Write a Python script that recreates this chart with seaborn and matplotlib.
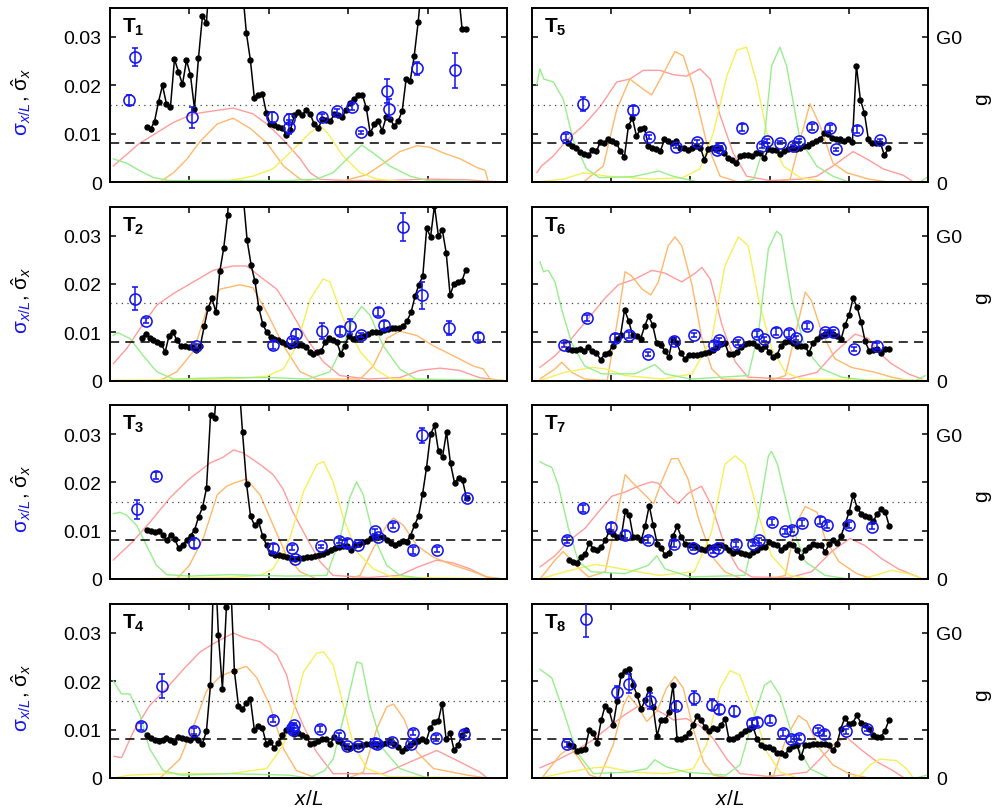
import numpy as np
import pandas as pd
import matplotlib
matplotlib.use('Agg')
import matplotlib.pyplot as plt
import seaborn as sns

sns.set_style('ticks')
plt.rcParams['font.family'] = ['Liberation Sans', 'DejaVu Sans']
plt.rcParams['mathtext.fontset'] = 'custom'
plt.rcParams['mathtext.rm'] = 'Liberation Sans'
plt.rcParams['mathtext.it'] = 'Liberation Sans:italic'
plt.rcParams['mathtext.bf'] = 'Liberation Sans:bold'
plt.rcParams['axes.edgecolor'] = 'black'
plt.rcParams['xtick.color'] = 'black'
plt.rcParams['ytick.color'] = 'black'
plt.rcParams['text.color'] = 'black'

SCALE = 1e-3      # sigma values are given in units of 1e-3
G0_LEVEL = 0.03   # g = G0 sits at the 0.03 tick
SIG_DASH = 0.008
SIG_DOT = 0.016

# ---------------- black series: sigma-hat along x/L ----------------
T1_SIG = [11.4, 10.9, 12.5, 16.6, 20.0, 16.1, 15.6, 25.4, 22.8, 20.2, 25.2, 22.1, 15.2, 25.6, 34.3, 33.0, 45, 55, 70, 80,
          85, 80, 70, 55, 40, 30.8, 25.2, 17.3, 18.1, 18.3, 14.3, 11.9, 11.7, 11.4, 11.2, 9.7, 10.7, 13.8, 14.5, 13.9,
          15.0, 14.0, 11.9, 11.1, 13.1, 12.8, 12.6, 14.0, 13.8, 13.4, 15.0, 16.4, 17.2, 18.0, 18.1, 15.4, 10.1, 11.9,
          12.6, 10.6, 13.5, 13.0, 11.6, 12.6, 14.7, 21.4, 20.9, 26.0, 33.1, 42, 55, 70, 80, 85, 82, 72, 60, 48, 40,
          31.6, 31.7]
T2_SIG = [8.8, 9.7, 8.8, 8.3, 8.0, 7.6, 5.9, 9.3, 10.1, 8.3, 7.2, 7.1, 6.9, 6.9, 6.4, 7.2, 11.2, 15.0, 17.0, 14.1, 22.6,
          27.4, 34.3, 48, 55, 50, 38, 29.0, 24.0, 20.5, 15.0, 11.7, 10.0, 9.0, 8.6, 8.3, 7.9, 7.5, 7.2, 7.3, 7.4, 7.3,
          7.0, 6.0, 5.4, 6.0, 6.2, 7.9, 8.8, 8.4, 7.9, 5.5, 7.2, 9.2, 8.6, 8.8, 9.1, 9.3, 9.7, 10.1, 10.0, 10.1, 10.5,
          10.6, 10.8, 10.9, 10.8, 11.2, 12.4, 14.1, 17.4, 19.8, 21.6, 31.5, 29.7, 36.2, 29.9, 31.2, 26.4, 17.7, 20.0,
          20.3, 20.5, 22.9]
T3_SIG = [10.2, 9.9, 9.7, 9.9, 9.2, 8.0, 9.2, 8.3, 6.5, 7.0, 8.0, 9.0, 10.1, 12.8, 14.8, 18.8, 33.9, 33.4, 45, 60, 70,
          65, 55, 42, 30.4, 19.7, 13.0, 11.1, 11.9, 9.0, 7.0, 5.4, 5.0, 4.9, 4.7, 4.6, 4.4, 4.2, 4.3, 4.3, 4.6, 4.6,
          4.8, 4.9, 5.2, 5.6, 6.1, 6.5, 6.6, 6.8, 6.8, 6.1, 7.1, 7.2, 7.7, 7.8, 8.5, 8.9, 8.7, 8.7, 8.0, 7.5, 7.1, 7.5,
          7.8, 7.7, 9.0, 11.1, 13.0, 17.5, 23.0, 29.9, 31.8, 26.4, 25.2, 30.4, 23.9, 19.9, 20.9, 20.4, 16.8]
T4_SIG = [8.8, 8.3, 7.9, 7.7, 7.8, 8.3, 7.8, 7.4, 8.5, 8.3, 8.1, 7.8, 8.5, 7.8, 7.1, 9.7, 19.2, 48, 29.5, 18.5, 35.4,
          42, 22.1, 15.0, 14.2, 15.6, 16.3, 9.9, 10.8, 10.3, 7.1, 7.4, 6.2, 7.2, 8.8, 9.9, 10.1, 9.2, 9.4, 9.0, 8.5,
          7.1, 7.2, 7.7, 8.0, 8.0, 7.1, 8.5, 7.7, 7.2, 6.4, 6.2, 6.6, 6.6, 6.8, 7.1, 7.1, 7.1, 6.8, 7.1, 7.2, 7.4, 7.1,
          6.4, 5.5, 6.2, 6.9, 7.4, 7.7, 8.1, 7.6, 10.3, 11.6, 11.7, 15.4, 8.0, 9.4, 5.7, 6.9, 8.8, 9.9]
T5_SIG = [8.0, 7.4, 7.1, 6.2, 5.7, 5.6, 6.6, 6.4, 8.3, 8.1, 9.0, 8.5, 8.0, 6.4, 5.2, 11.6, 13.3, 9.5, 10.9, 11.2, 7.4,
          7.1, 6.8, 6.4, 8.8, 8.5, 8.0, 8.5, 7.1, 7.1, 6.6, 7.1, 7.4, 7.1, 4.6, 6.8, 7.0, 6.8, 7.1, 5.9, 5.0, 4.6, 4.0,
          5.4, 5.5, 5.5, 5.4, 5.9, 6.1, 5.0, 6.8, 6.6, 6.6, 5.7, 6.4, 6.8, 7.1, 6.9, 7.1, 7.4, 7.4, 8.0, 8.5, 9.0,
          10.1, 9.9, 9.2, 8.8, 9.0, 8.5, 9.0, 8.3, 24.1, 17.0, 14.3, 8.8, 8.1, 8.0, 8.1, 5.5, 7.0]
T6_SIG = [6.6, 6.4, 6.4, 6.6, 6.2, 6.9, 6.2, 5.7, 4.3, 5.4, 5.7, 7.2, 8.6, 9.4, 14.6, 12.4, 9.4, 9.3, 8.6, 11.2, 13.3,
          11.5, 7.8, 7.4, 6.2, 4.8, 8.6, 7.8, 5.7, 4.5, 5.2, 5.2, 5.2, 5.5, 5.7, 6.0, 6.4, 6.9, 7.6, 7.8, 5.5, 5.5, 5.9,
          6.9, 7.6, 7.8, 7.8, 7.2, 6.6, 7.2, 6.0, 4.8, 5.2, 7.2, 7.9, 8.1, 7.8, 7.2, 7.2, 7.1, 5.7, 7.8, 8.6, 9.2, 9.7,
          10.0, 9.7, 9.3, 8.6, 11.5, 13.6, 17.0, 15.2, 12.1, 8.1, 6.2, 6.4, 6.6, 5.7, 6.6, 6.6]
T7_SIG = [4.0, 3.5, 3.4, 4.6, 5.2, 7.5, 6.3, 6.1, 6.6, 8.0, 9.9, 9.4, 8.7, 8.7, 14.0, 13.3, 8.7, 8.7, 8.0, 11.0, 15.2,
          11.1, 7.3, 6.4, 4.9, 5.4, 9.0, 10.9, 8.7, 7.3, 7.0, 7.0, 6.6, 6.3, 6.1, 6.6, 6.6, 7.0, 7.0, 6.6, 6.1, 5.4, 5.7,
          5.4, 5.2, 5.0, 5.6, 6.1, 6.6, 6.6, 7.7, 7.3, 7.0, 6.1, 6.6, 7.3, 7.0, 5.9, 4.6, 5.9, 6.6, 7.3, 7.0, 7.0, 5.6,
          7.3, 8.0, 7.5, 9.0, 11.4, 13.9, 17.4, 14.7, 13.5, 13.0, 12.8, 11.9, 13.5, 14.4, 13.9, 11.0]
T8_SIG = [6.8, 6.6, 5.5, 5.7, 6.1, 9.9, 9.4, 7.3, 11.9, 15.0, 14.0, 10.9, 15.9, 21.4, 22.1, 22.5, 19.3, 17.1, 14.3,
          16.1, 18.5, 14.7, 8.7, 11.9, 11.9, 13.7, 19.3, 8.0, 8.1, 8.5, 9.4, 11.0, 12.8, 11.9, 10.6, 9.7, 10.3, 10.1,
          10.9, 12.3, 8.0, 8.1, 8.5, 9.2, 9.7, 10.2, 10.6, 8.1, 6.8, 6.4, 6.4, 5.9, 5.2, 5.2, 4.7, 6.1, 6.6, 6.9, 4.3,
          6.8, 6.8, 7.1, 7.0, 7.0, 7.1, 6.8, 5.7, 7.0, 10.2, 12.5, 11.2, 11.4, 13.0, 11.4, 10.9, 10.1, 8.8, 8.5, 8.5,
          9.7, 11.9]
# first and last x/L of each black series
SIG_SPAN = [(0.092, 0.897), (0.080, 0.896), (0.092, 0.898), (0.092, 0.897),
            (0.092, 0.900), (0.092, 0.902), (0.094, 0.902), (0.094, 0.901)]

# ---------------- blue points: sigma_{x/L} with error bars ----------------
T1_BX = [0.048, 0.063, 0.206, 0.409, 0.452, 0.452, 0.533, 0.573, 0.610, 0.632, 0.698, 0.704, 0.774, 0.869]
T1_BY = [17.0, 25.9, 13.4, 13.5, 13.1, 11.4, 13.5, 14.6, 15.5, 10.3, 18.9, 15.2, 23.5, 23.1]
T1_BE = [1.0, 1.9, 2.2, 1.0, 1.0, 1.5, 0.5, 0.6, 0.6, 0.3, 2.5, 2.0, 1.3, 3.6]
T2_BX = [0.063, 0.09, 0.216, 0.411, 0.458, 0.468, 0.535, 0.579, 0.605, 0.631, 0.674, 0.69, 0.737, 0.786, 0.853, 0.928]
T2_BY = [16.9, 12.4, 7.2, 7.4, 8.1, 9.7, 10.2, 10.2, 11.2, 9.4, 14.1, 11.5, 31.7, 17.6, 10.9, 9.1]
T2_BE = [2.4, 0.6, 0.4, 0.8, 0.5, 1.0, 1.6, 0.8, 1.5, 0.5, 0.8, 0.9, 2.9, 2.8, 1.5, 0.7]
T3_BX = [0.067, 0.116, 0.212, 0.411, 0.458, 0.466, 0.531, 0.577, 0.596, 0.624, 0.667, 0.674, 0.714, 0.764, 0.785,
         0.824, 0.898]
T3_BY = [14.4, 21.4, 7.4, 6.4, 6.5, 4.2, 6.8, 7.9, 7.5, 7.0, 9.9, 8.7, 11.0, 5.9, 29.7, 6.1, 16.8]
T3_BE = [2.0, 0.8, 1.0, 0.8, 0.6, 0.4, 0.3, 0.5, 0.8, 0.4, 0.5, 0.5, 0.5, 0.7, 1.5, 0.5, 0.4]
T4_BX = [0.079, 0.132, 0.212, 0.41, 0.459, 0.462, 0.464, 0.529, 0.578, 0.596, 0.624, 0.668, 0.672, 0.71, 0.757, 0.764,
         0.82, 0.892]
T4_BY = [10.7, 19.0, 9.7, 12.1, 10.4, 10.0, 10.9, 10.1, 8.8, 6.6, 6.6, 7.2, 7.1, 7.4, 7.0, 9.4, 8.3, 9.2]
T4_BE = [0.7, 2.5, 0.6, 0.6, 0.5, 0.4, 0.5, 0.6, 0.5, 0.4, 0.4, 0.3, 0.3, 0.3, 0.4, 0.6, 0.6, 0.5]
T5_BX = [0.085, 0.13, 0.256, 0.296, 0.363, 0.416, 0.468, 0.476, 0.53, 0.58, 0.593, 0.625, 0.66, 0.673, 0.706, 0.753,
         0.767, 0.82, 0.88]
T5_BY = [9.3, 16.1, 14.8, 9.3, 7.3, 8.3, 6.6, 7.1, 11.2, 7.4, 8.5, 8.1, 7.4, 8.5, 11.4, 11.1, 6.8, 10.8, 8.6]
T5_BE = [0.7, 1.4, 1.0, 0.5, 0.3, 0.4, 0.3, 0.3, 0.7, 0.4, 0.5, 0.3, 0.3, 0.3, 0.6, 0.6, 0.3, 0.7, 0.4]
T6_BX = [0.082, 0.138, 0.21, 0.245, 0.292, 0.359, 0.409, 0.459, 0.473, 0.521, 0.569, 0.585, 0.616, 0.65, 0.666, 0.694,
         0.74, 0.761, 0.814, 0.872]
T6_BY = [7.4, 12.9, 8.8, 9.4, 5.5, 8.1, 9.4, 7.4, 8.3, 7.9, 9.7, 8.6, 10.1, 9.8, 8.8, 11.2, 10.0, 10.0, 6.6, 7.2]
T6_BE = [0.4, 0.6, 0.8, 0.7, 0.4, 0.6, 0.5, 0.6, 0.5, 0.5, 0.6, 0.5, 0.7, 0.7, 0.5, 0.6, 0.4, 0.4, 0.4, 0.6]
T7_BX = [0.088, 0.13, 0.2, 0.236, 0.292, 0.359, 0.407, 0.456, 0.47, 0.514, 0.559, 0.574, 0.605, 0.64, 0.656, 0.681,
         0.728, 0.746, 0.8, 0.858]
T7_BY = [8.1, 14.6, 10.8, 9.2, 8.0, 7.2, 6.5, 5.8, 6.5, 7.2, 7.3, 8.0, 11.8, 9.9, 10.2, 11.6, 12.1, 11.1, 11.1, 10.8]
T7_BE = [0.6, 0.7, 0.7, 0.8, 0.6, 0.6, 0.4, 0.4, 0.4, 0.5, 0.4, 0.5, 0.6, 0.5, 0.5, 0.7, 0.7, 0.6, 0.6, 0.5]
T8_BX = [0.089, 0.136, 0.214, 0.245, 0.298, 0.363, 0.41, 0.455, 0.471, 0.509, 0.555, 0.568, 0.6, 0.633, 0.654, 0.674,
         0.723, 0.737, 0.793, 0.847]
T8_BY = [7.0, 32.8, 17.8, 19.5, 15.9, 15.0, 16.6, 15.2, 14.2, 13.9, 11.4, 11.6, 12.1, 9.3, 8.1, 8.3, 9.9, 9.2, 9.7, 10.2]
T8_BE = [0.5, 3.6, 1.3, 2.0, 1.6, 0.9, 1.5, 1.2, 1.0, 1.1, 0.7, 0.8, 0.7, 0.6, 0.6, 0.5, 0.5, 0.5, 0.5, 0.4]

# ---------------- conductance traces g/G0, (x/L, g) ----------------
T1_RED = [(0.008, 0.11), (0.042, 0.19), (0.071, 0.26), (0.118, 0.34), (0.159, 0.41), (0.21, 0.47), (0.26, 0.49),
          (0.31, 0.51), (0.36, 0.47), (0.395, 0.40), (0.437, 0.29), (0.479, 0.16), (0.504, 0.064), (0.529, 0.018),
          (0.6, 0.01), (0.7, 0.01), (0.8, 0.02), (0.9, 0.015), (0.95, 0.005), (0.99, 0.0)]
T1_ORANGE = [(0.008, 0.0), (0.126, 0.0), (0.16, 0.064), (0.193, 0.156), (0.227, 0.28), (0.27, 0.40), (0.31, 0.44),
             (0.353, 0.37), (0.395, 0.27), (0.437, 0.11), (0.479, 0.02), (0.52, 0.0), (0.58, 0.0), (0.605, 0.02),
             (0.646, 0.05), (0.69, 0.13), (0.73, 0.21), (0.773, 0.25), (0.806, 0.24), (0.84, 0.20), (0.882, 0.16),
             (0.924, 0.10), (0.945, 0.08), (0.953, 0.0), (0.99, 0.0)]
T1_YELLOW = [(0.008, 0.0), (0.2, 0.01), (0.3, 0.01), (0.36, 0.04), (0.41, 0.09), (0.453, 0.2), (0.504, 0.34),
             (0.529, 0.39), (0.55, 0.33), (0.587, 0.18), (0.63, 0.064), (0.672, 0.02), (0.75, 0.0), (0.99, 0.0)]
T1_GREEN = [(0.008, 0.16), (0.042, 0.13), (0.076, 0.076), (0.11, 0.03), (0.15, 0.01), (0.3, 0.01), (0.45, 0.01),
            (0.52, 0.02), (0.562, 0.064), (0.605, 0.18), (0.634, 0.255), (0.663, 0.2), (0.705, 0.11), (0.756, 0.04),
            (0.8, 0.01), (0.99, 0.0)]

T2_RED = [(0.008, 0.115), (0.042, 0.22), (0.076, 0.36), (0.118, 0.52), (0.16, 0.60), (0.21, 0.68), (0.26, 0.76),
          (0.31, 0.79), (0.344, 0.79), (0.386, 0.70), (0.42, 0.63), (0.453, 0.49), (0.495, 0.29), (0.537, 0.13),
          (0.579, 0.034), (0.65, 0.01), (0.73, 0.02), (0.78, 0.07), (0.831, 0.085), (0.88, 0.07), (0.93, 0.02),
          (0.99, 0.0)]
T2_ORANGE = [(0.008, 0.0), (0.126, 0.0), (0.168, 0.06), (0.21, 0.2), (0.244, 0.49), (0.277, 0.63), (0.327, 0.66),
             (0.36, 0.64), (0.395, 0.47), (0.437, 0.24), (0.479, 0.06), (0.52, 0.01), (0.63, 0.01), (0.663, 0.10),
             (0.697, 0.29), (0.73, 0.34), (0.773, 0.31), (0.814, 0.24), (0.865, 0.17), (0.915, 0.10), (0.94, 0.08),
             (0.96, 0.0), (0.99, 0.0)]
T2_YELLOW = [(0.008, 0.0), (0.3, 0.01), (0.395, 0.03), (0.437, 0.08), (0.47, 0.24), (0.504, 0.56), (0.537, 0.70),
             (0.554, 0.68), (0.587, 0.43), (0.63, 0.20), (0.672, 0.07), (0.71, 0.01), (0.99, 0.0)]
T2_GREEN = [(0.008, 0.31), (0.02, 0.33), (0.05, 0.29), (0.084, 0.17), (0.118, 0.06), (0.16, 0.01), (0.3, 0.02),
            (0.4, 0.02), (0.5, 0.01), (0.554, 0.06), (0.587, 0.24), (0.613, 0.43), (0.634, 0.51), (0.655, 0.45),
            (0.688, 0.24), (0.73, 0.08), (0.77, 0.01), (0.99, 0.0)]

T3_RED = [(0.008, 0.13), (0.058, 0.26), (0.1, 0.39), (0.151, 0.56), (0.2, 0.69), (0.252, 0.80), (0.285, 0.84),
          (0.311, 0.89), (0.335, 0.87), (0.378, 0.79), (0.411, 0.72), (0.436, 0.62), (0.461, 0.46), (0.496, 0.28),
          (0.529, 0.12), (0.562, 0.025), (0.65, 0.01), (0.73, 0.025), (0.773, 0.08), (0.823, 0.13), (0.865, 0.11),
          (0.907, 0.07), (0.948, 0.014), (0.99, 0.0)]
T3_ORANGE = [(0.008, 0.0), (0.168, 0.0), (0.2, 0.095), (0.235, 0.28), (0.27, 0.58), (0.294, 0.64), (0.311, 0.66),
             (0.344, 0.69), (0.378, 0.58), (0.411, 0.37), (0.445, 0.16), (0.479, 0.05), (0.52, 0.0), (0.6, 0.0),
             (0.63, 0.025), (0.663, 0.21), (0.697, 0.37), (0.714, 0.42), (0.739, 0.37), (0.773, 0.23), (0.815, 0.15),
             (0.865, 0.095), (0.915, 0.05), (0.95, 0.014), (0.99, 0.0)]
T3_YELLOW = [(0.008, 0.0), (0.3, 0.01), (0.378, 0.025), (0.411, 0.07), (0.453, 0.28), (0.487, 0.60), (0.521, 0.79),
             (0.538, 0.81), (0.562, 0.67), (0.588, 0.42), (0.621, 0.19), (0.663, 0.07), (0.71, 0.014), (0.99, 0.0)]
T3_GREEN = [(0.008, 0.45), (0.025, 0.46), (0.042, 0.44), (0.067, 0.37), (0.092, 0.23), (0.117, 0.095), (0.143, 0.03),
            (0.2, 0.02), (0.3, 0.03), (0.45, 0.02), (0.546, 0.025), (0.579, 0.28), (0.604, 0.56), (0.621, 0.67),
            (0.638, 0.58), (0.663, 0.30), (0.697, 0.095), (0.73, 0.025), (0.8, 0.0), (0.99, 0.0)]

T4_RED = [(0.01, 0.15), (0.029, 0.14), (0.059, 0.32), (0.1, 0.50), (0.143, 0.62), (0.185, 0.75), (0.227, 0.87),
          (0.269, 0.94), (0.311, 1.0), (0.336, 0.97), (0.378, 0.94), (0.42, 0.85), (0.445, 0.71), (0.462, 0.52),
          (0.487, 0.36), (0.52, 0.18), (0.562, 0.03), (0.688, 0.03), (0.747, 0.10), (0.823, 0.19), (0.882, 0.11),
          (0.932, 0.04), (0.95, 0.0), (0.99, 0.0)]
T4_ORANGE = [(0.008, 0.0), (0.126, 0.0), (0.176, 0.13), (0.218, 0.41), (0.243, 0.60), (0.277, 0.70), (0.311, 0.74),
             (0.344, 0.77), (0.37, 0.69), (0.403, 0.50), (0.437, 0.20), (0.47, 0.05), (0.52, 0.0), (0.6, 0.0),
             (0.638, 0.04), (0.672, 0.34), (0.697, 0.49), (0.714, 0.51), (0.74, 0.41), (0.773, 0.18), (0.815, 0.065),
             (0.9, 0.02), (0.95, 0.0), (0.99, 0.0)]
T4_YELLOW = [(0.008, 0.0), (0.05, 0.02), (0.15, 0.03), (0.3, 0.03), (0.395, 0.065), (0.437, 0.23), (0.462, 0.46),
             (0.487, 0.73), (0.52, 0.86), (0.538, 0.87), (0.562, 0.78), (0.588, 0.50), (0.613, 0.23), (0.647, 0.065),
             (0.7, 0.01), (0.99, 0.0)]
T4_GREEN = [(0.008, 0.67), (0.029, 0.58), (0.05, 0.58), (0.076, 0.43), (0.1, 0.20), (0.134, 0.05), (0.18, 0.02),
            (0.3, 0.03), (0.45, 0.02), (0.5, 0.0), (0.54, 0.05), (0.562, 0.13), (0.596, 0.50), (0.621, 0.80),
            (0.634, 0.79), (0.655, 0.50), (0.688, 0.20), (0.73, 0.065), (0.8, 0.0), (0.99, 0.0)]

T5_RED = [(0.012, 0.064), (0.024, 0.11), (0.054, 0.18), (0.088, 0.29), (0.13, 0.39), (0.172, 0.52), (0.214, 0.69),
          (0.247, 0.71), (0.281, 0.77), (0.323, 0.77), (0.357, 0.74), (0.39, 0.73), (0.424, 0.78), (0.45, 0.71),
          (0.475, 0.46), (0.508, 0.20), (0.542, 0.04), (0.6, 0.01), (0.68, 0.02), (0.719, 0.04), (0.76, 0.11),
          (0.811, 0.21), (0.845, 0.16), (0.887, 0.09), (0.938, 0.046), (0.963, 0.0), (0.99, 0.0)]
T5_ORANGE = [(0.012, 0.0), (0.13, 0.0), (0.18, 0.11), (0.214, 0.50), (0.247, 0.71), (0.281, 0.64), (0.302, 0.60),
             (0.332, 0.75), (0.361, 0.90), (0.382, 0.87), (0.407, 0.66), (0.441, 0.27), (0.475, 0.04), (0.52, 0.0),
             (0.62, 0.0), (0.652, 0.02), (0.677, 0.29), (0.702, 0.54), (0.727, 0.39), (0.76, 0.13), (0.795, 0.064),
             (0.85, 0.02), (0.9, 0.0), (0.99, 0.0)]
T5_YELLOW = [(0.012, 0.0), (0.08, 0.02), (0.13, 0.064), (0.19, 0.04), (0.3, 0.02), (0.38, 0.03), (0.424, 0.09),
             (0.458, 0.34), (0.492, 0.73), (0.517, 0.91), (0.542, 0.93), (0.567, 0.69), (0.593, 0.34), (0.635, 0.11),
             (0.677, 0.03), (0.75, 0.0), (0.99, 0.0)]
T5_GREEN = [(0.012, 0.67), (0.02, 0.78), (0.03, 0.71), (0.054, 0.69), (0.079, 0.57), (0.104, 0.29), (0.138, 0.09),
            (0.17, 0.03), (0.256, 0.037), (0.32, 0.076), (0.356, 0.04), (0.42, 0.0), (0.53, 0.0), (0.56, 0.02),
            (0.584, 0.23), (0.605, 0.80), (0.626, 0.93), (0.643, 0.80), (0.677, 0.29), (0.719, 0.11), (0.76, 0.04),
            (0.8, 0.0), (0.98, 0.0), (0.997, 0.03)]

T6_RED = [(0.02, 0.09), (0.058, 0.17), (0.1, 0.29), (0.143, 0.43), (0.185, 0.57), (0.218, 0.66), (0.26, 0.70),
          (0.303, 0.76), (0.336, 0.74), (0.378, 0.68), (0.412, 0.74), (0.429, 0.78), (0.45, 0.70), (0.48, 0.38),
          (0.513, 0.13), (0.545, 0.023), (0.65, 0.01), (0.72, 0.057), (0.765, 0.195), (0.816, 0.32), (0.85, 0.29),
          (0.875, 0.195), (0.908, 0.115), (0.95, 0.046), (0.985, 0.01)]
T6_ORANGE = [(0.02, 0.01), (0.058, 0.08), (0.075, 0.126), (0.1, 0.057), (0.133, 0.01), (0.19, 0.0), (0.218, 0.45),
             (0.235, 0.75), (0.252, 0.72), (0.278, 0.63), (0.3, 0.59), (0.319, 0.68), (0.344, 0.93), (0.361, 0.99),
             (0.378, 0.93), (0.404, 0.66), (0.429, 0.29), (0.454, 0.08), (0.48, 0.01), (0.6, 0.0), (0.64, 0.034),
             (0.666, 0.33), (0.69, 0.61), (0.706, 0.55), (0.732, 0.33), (0.765, 0.15), (0.807, 0.09), (0.866, 0.057),
             (0.908, 0.023), (0.95, 0.0), (0.99, 0.0)]
T6_YELLOW = [(0.02, 0.0), (0.083, 0.057), (0.152, 0.09), (0.185, 0.08), (0.235, 0.034), (0.33, 0.01), (0.404, 0.046),
             (0.454, 0.29), (0.487, 0.79), (0.521, 0.99), (0.546, 0.93), (0.572, 0.56), (0.605, 0.22), (0.64, 0.057),
             (0.68, 0.01), (0.99, 0.0)]
T6_GREEN = [(0.02, 0.82), (0.029, 0.75), (0.041, 0.76), (0.058, 0.68), (0.075, 0.49), (0.1, 0.26), (0.133, 0.10),
            (0.176, 0.046), (0.26, 0.046), (0.31, 0.11), (0.336, 0.046), (0.4, 0.01), (0.546, 0.034), (0.572, 0.33),
            (0.597, 0.91), (0.618, 1.03), (0.63, 1.0), (0.656, 0.56), (0.69, 0.22), (0.732, 0.08), (0.782, 0.023),
            (0.85, 0.0), (0.97, 0.0), (0.993, 0.034)]

T7_RED = [(0.02, 0.083), (0.058, 0.16), (0.092, 0.26), (0.134, 0.35), (0.167, 0.46), (0.201, 0.57), (0.235, 0.60),
          (0.268, 0.64), (0.302, 0.67), (0.319, 0.66), (0.344, 0.58), (0.369, 0.52), (0.394, 0.59), (0.428, 0.64),
          (0.453, 0.51), (0.487, 0.23), (0.521, 0.07), (0.555, 0.014), (0.65, 0.01), (0.706, 0.05), (0.757, 0.19),
          (0.803, 0.28), (0.841, 0.23), (0.883, 0.14), (0.925, 0.07), (0.975, 0.014)]
T7_ORANGE = [(0.02, 0.0), (0.058, 0.13), (0.079, 0.19), (0.11, 0.095), (0.143, 0.014), (0.185, 0.05), (0.21, 0.37),
             (0.235, 0.72), (0.252, 0.67), (0.285, 0.58), (0.307, 0.52), (0.327, 0.67), (0.352, 0.83), (0.369, 0.83),
             (0.394, 0.69), (0.42, 0.42), (0.453, 0.16), (0.487, 0.05), (0.53, 0.0), (0.6, 0.0), (0.64, 0.025),
             (0.665, 0.37), (0.69, 0.50), (0.72, 0.46), (0.74, 0.28), (0.775, 0.12), (0.82, 0.037), (0.86, 0.0),
             (0.99, 0.0)]
T7_YELLOW = [(0.02, 0.0), (0.083, 0.05), (0.159, 0.10), (0.2, 0.083), (0.32, 0.025), (0.41, 0.05), (0.453, 0.32),
             (0.487, 0.79), (0.513, 0.85), (0.538, 0.79), (0.572, 0.44), (0.605, 0.16), (0.65, 0.025), (0.7, 0.0),
             (0.83, 0.0), (0.866, 0.025), (0.908, 0.06), (0.95, 0.037), (0.99, 0.0)]
T7_GREEN = [(0.02, 0.81), (0.033, 0.79), (0.05, 0.77), (0.066, 0.65), (0.092, 0.35), (0.117, 0.12), (0.15, 0.05),
            (0.235, 0.037), (0.294, 0.095), (0.315, 0.16), (0.336, 0.07), (0.4, 0.014), (0.538, 0.025), (0.572, 0.44),
            (0.597, 0.85), (0.605, 0.88), (0.62, 0.79), (0.656, 0.37), (0.69, 0.12), (0.74, 0.025), (0.8, 0.0),
            (0.99, 0.0)]

T8_RED = [(0.02, 0.07), (0.054, 0.11), (0.104, 0.18), (0.147, 0.25), (0.189, 0.34), (0.231, 0.43), (0.265, 0.49),
          (0.307, 0.48), (0.341, 0.43), (0.357, 0.40), (0.39, 0.41), (0.424, 0.36), (0.458, 0.27), (0.492, 0.13),
          (0.525, 0.03), (0.6, 0.01), (0.694, 0.04), (0.727, 0.13), (0.769, 0.25), (0.795, 0.28), (0.829, 0.20),
          (0.872, 0.11), (0.912, 0.05), (0.94, 0.0), (0.99, 0.0)]
T8_ORANGE = [(0.025, 0.0), (0.071, 0.16), (0.096, 0.21), (0.12, 0.13), (0.146, 0.02), (0.17, 0.0), (0.205, 0.23),
             (0.231, 0.50), (0.244, 0.57), (0.265, 0.50), (0.29, 0.39), (0.315, 0.46), (0.34, 0.62), (0.361, 0.70),
             (0.382, 0.62), (0.407, 0.34), (0.433, 0.11), (0.458, 0.02), (0.5, 0.0), (0.58, 0.0), (0.61, 0.02),
             (0.644, 0.29), (0.673, 0.43), (0.694, 0.39), (0.727, 0.20), (0.76, 0.09), (0.8, 0.03), (0.85, 0.0),
             (0.99, 0.0)]
T8_YELLOW = [(0.02, 0.0), (0.088, 0.04), (0.155, 0.07), (0.189, 0.076), (0.256, 0.04), (0.34, 0.03), (0.407, 0.064),
             (0.441, 0.23), (0.475, 0.62), (0.5, 0.74), (0.525, 0.71), (0.559, 0.46), (0.593, 0.18), (0.627, 0.04),
             (0.67, 0.0), (0.8, 0.0), (0.83, 0.02), (0.854, 0.09), (0.879, 0.13), (0.92, 0.12), (0.946, 0.064),
             (0.963, 0.0), (0.99, 0.0)]
T8_GREEN = [(0.02, 0.75), (0.05, 0.69), (0.0795, 0.46), (0.113, 0.18), (0.155, 0.03), (0.24, 0.04), (0.29, 0.064),
            (0.31, 0.126), (0.34, 0.076), (0.39, 0.04), (0.49, 0.02), (0.525, 0.09), (0.559, 0.41), (0.587, 0.64),
            (0.603, 0.67), (0.626, 0.57), (0.66, 0.27), (0.702, 0.064), (0.75, 0.0), (0.97, 0.0), (0.997, 0.02)]

SIGS = [T1_SIG, T2_SIG, T3_SIG, T4_SIG, T5_SIG, T6_SIG, T7_SIG, T8_SIG]
BLUE_PTS = [(T1_BX, T1_BY, T1_BE), (T2_BX, T2_BY, T2_BE), (T3_BX, T3_BY, T3_BE), (T4_BX, T4_BY, T4_BE),
            (T5_BX, T5_BY, T5_BE), (T6_BX, T6_BY, T6_BE), (T7_BX, T7_BY, T7_BE), (T8_BX, T8_BY, T8_BE)]
TRACES = [(T1_RED, T1_ORANGE, T1_YELLOW, T1_GREEN), (T2_RED, T2_ORANGE, T2_YELLOW, T2_GREEN),
          (T3_RED, T3_ORANGE, T3_YELLOW, T3_GREEN), (T4_RED, T4_ORANGE, T4_YELLOW, T4_GREEN),
          (T5_RED, T5_ORANGE, T5_YELLOW, T5_GREEN), (T6_RED, T6_ORANGE, T6_YELLOW, T6_GREEN),
          (T7_RED, T7_ORANGE, T7_YELLOW, T7_GREEN), (T8_RED, T8_ORANGE, T8_YELLOW, T8_GREEN)]
TRACE_COLORS = ['#ff9c9c', '#ffb86c', '#f6ef5a', '#98ee8c']
BLUE = '#1414f0'

# layout in pixels
W, H = 999, 812
COL_LEFT = [110, 532]
COL_W = [397, 396]
ROW_TOP = [9, 207.5, 406, 605]
ROW_H = 174

fig = plt.figure(figsize=(W / 100, H / 100), dpi=100)

for i in range(8):
    col, row = divmod(i, 4)
    ax = fig.add_axes([COL_LEFT[col] / W, 1 - (ROW_TOP[row] + ROW_H) / H, COL_W[col] / W, ROW_H / H])

    for trace, c in zip(TRACES[i], TRACE_COLORS):
        tr = pd.DataFrame(trace, columns=['x', 'g'])
        sns.lineplot(x=tr['x'], y=tr['g'] * G0_LEVEL, ax=ax, color=c, lw=1.0, sort=False, zorder=1)

    ax.axhline(SIG_DASH, color='black', lw=1.1, ls=(0, (6, 4)), zorder=2)
    ax.axhline(SIG_DOT, color='#444444', lw=0.9, ls=(0, (1, 3.5)), zorder=2)

    sig = np.array(SIGS[i]) * SCALE
    xs = np.linspace(SIG_SPAN[i][0], SIG_SPAN[i][1], len(sig))
    sns.lineplot(x=xs, y=sig, ax=ax, color='black', lw=1.1, marker='o', markersize=4.6,
                 markeredgewidth=0, sort=False, zorder=3)

    bx, by, be = BLUE_PTS[i]
    ax.errorbar(bx, np.array(by) * SCALE, yerr=np.array(be) * SCALE, fmt='o', ms=8, mfc='none', mec=BLUE,
                mew=1.15, ecolor=BLUE, elinewidth=1.1, capsize=2.5, capthick=1.1, zorder=4)

    ax.set_xlim(0, 1)
    ax.set_ylim(0, 0.036)
    ax.set_xlabel('')
    ax.set_ylabel('')
    ax.set_xticks([0.2, 0.4, 0.6, 0.8])
    ax.set_xticklabels([])
    ax.set_yticks([0, 0.01, 0.02, 0.03])
    ax.tick_params(direction='in', top=True, right=True, length=4, width=1.1, labelsize=14, pad=6,
                   color='black', labelcolor='black')
    for s in ax.spines.values():
        s.set_linewidth(1.4)
        s.set_color('black')
    if col == 0:
        ax.set_yticklabels(['0', '0.01', '0.02', '0.03'])
    else:
        ax.tick_params(labelleft=False, labelright=True)
        ax.set_yticklabels(['0', '', '', 'G0'])

    ax.text(0.03, 0.955, r'$\mathbf{T}_{\mathbf{%d}}$' % (i + 1), transform=ax.transAxes,
            fontsize=15, va='top', ha='left')

    cy = 1 - (ROW_TOP[row] + ROW_H * 0.535) / H
    if col == 0:
        fig.text(28 / W, cy, r'$\mathrm{\sigma}_{x/L}$', color=BLUE, fontsize=15, rotation=90,
                 rotation_mode='anchor', ha='right', va='baseline')
        fig.text(28 / W, cy, r', $\hat{\mathrm{\sigma}}_x$', color='black', fontsize=15, rotation=90,
                 rotation_mode='anchor', ha='left', va='baseline')
    else:
        fig.text(982 / W, 1 - (ROW_TOP[row] + ROW_H * 0.52) / H, 'g', fontsize=15, rotation=90,
                 ha='center', va='center')

for col in range(2):
    fig.text((COL_LEFT[col] + COL_W[col] / 2) / W, 1 - 800 / H, r'$x/L$', fontsize=15, ha='center', va='center')

fig.savefig('out.png', dpi=100)
